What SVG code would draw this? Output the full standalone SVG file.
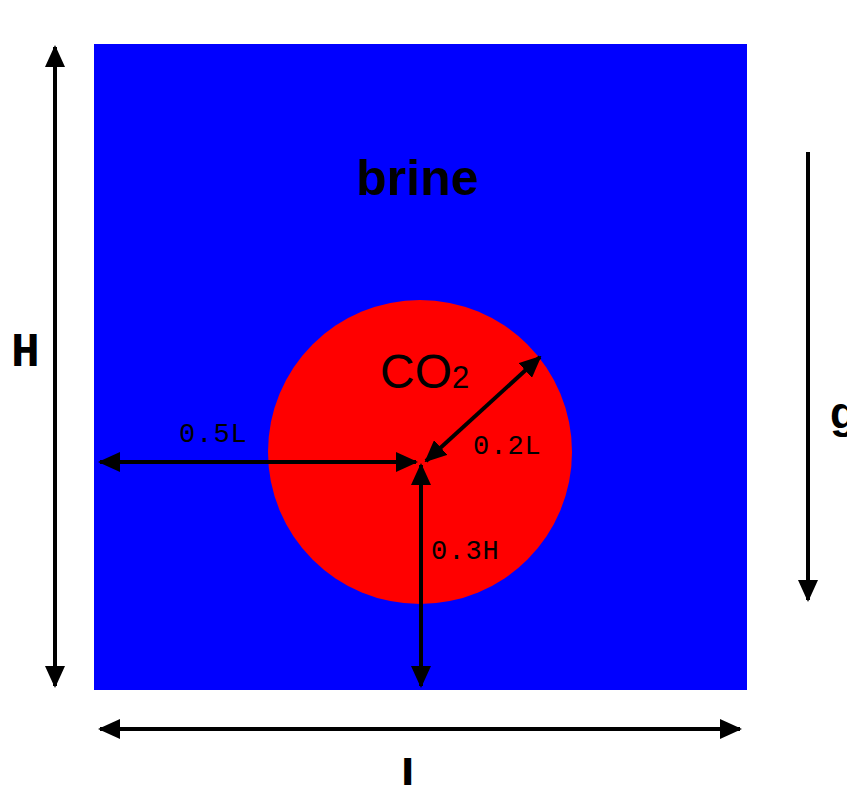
<svg xmlns="http://www.w3.org/2000/svg" width="847" height="785" viewBox="0 0 847 785">
<style>
.ln{stroke:#000;stroke-width:4;fill:none}
.sans{font-family:"Liberation Sans",Arial,sans-serif;fill:#000}
.mono{font-family:"Liberation Mono","Courier New",monospace;fill:#000}
</style>
<defs>
<marker id="ah" viewBox="0 0 22 20" refX="20" refY="10" markerWidth="22" markerHeight="20" markerUnits="userSpaceOnUse" orient="auto-start-reverse">
<path d="M0,0 L22,10 L0,20 z" fill="#000"/>
</marker>
</defs>
<rect width="847" height="785" fill="#fff"/>
<g id="brine">
<rect x="94" y="44" width="653" height="646" fill="#0000ff"/>
<text class="sans" x="356" y="195" font-size="50" font-weight="bold">brine</text>
</g>
<g id="co2">
<circle cx="420" cy="452" r="152" fill="#ff0000"/>
<text class="sans" x="380" y="388" font-size="48">CO<tspan font-size="31">2</tspan></text>
</g>
<g id="connectors">
<line class="ln" x1="55" y1="47" x2="55" y2="686" marker-start="url(#ah)" marker-end="url(#ah)"/>
<line class="ln" x1="100" y1="729" x2="740" y2="729" marker-start="url(#ah)" marker-end="url(#ah)"/>
<line class="ln" x1="808" y1="152" x2="808" y2="600" marker-end="url(#ah)"/>
<line class="ln" x1="100" y1="462" x2="416" y2="462" marker-start="url(#ah)" marker-end="url(#ah)"/>
<line class="ln" x1="421" y1="465" x2="421" y2="686" marker-start="url(#ah)" marker-end="url(#ah)"/>
<line class="ln" x1="426" y1="461" x2="540" y2="357" marker-start="url(#ah)" marker-end="url(#ah)"/>
</g>
<g id="labels">
<text class="mono" x="11" y="366" font-size="48" font-weight="bold">H</text>
<text class="mono" x="179" y="442" font-size="27" letter-spacing="1">0.5L</text>
<text class="mono" x="473" y="454" font-size="27" letter-spacing="1">0.2L</text>
<text class="mono" x="431" y="559" font-size="27" letter-spacing="1">0.3H</text>
<text class="sans" x="401" y="791" font-size="48" font-weight="bold">L</text>
<text class="sans" x="830" y="428" font-size="44" font-weight="bold">g</text>
</g>
</svg>
